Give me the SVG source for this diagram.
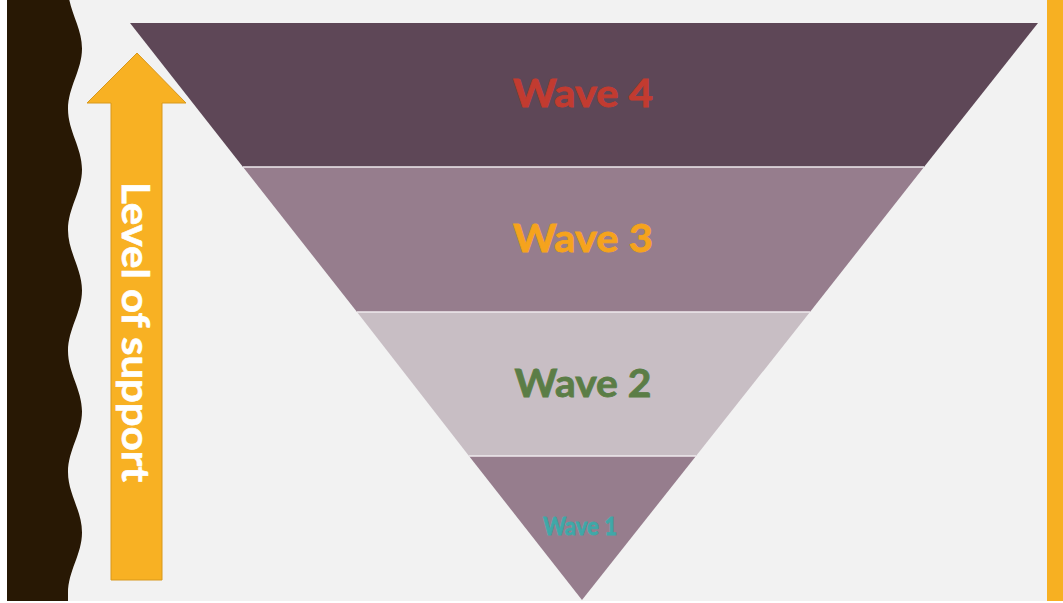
<svg xmlns="http://www.w3.org/2000/svg" width="1063" height="603" viewBox="0 0 1063 603">
  <style>
    .lbl { font-family: Lato, "Open Sans", "Liberation Sans", sans-serif; font-weight: 700; text-anchor: middle; stroke-width: 0.8; }
    .sep { stroke: #efeaee; stroke-width: 1.5; }
  </style>
  <rect x="0" y="0" width="1063" height="603" fill="#ffffff"/>
  <rect x="7" y="0" width="1056" height="601" fill="#f2f2f2"/>
  <g id="left-band">
    <path fill="#281804" d="M7 -12 L68 -12 C68 10 82 26.5 82 48.5 C82 70.5 68 87 68 109 C68 131 82 147.5 82 169.5 C82 191.5 68 208 68 230 C68 252 82 268.5 82 290.5 C82 312.5 68 329 68 351 C68 373 82 389.5 82 411.5 C82 433.5 68 450 68 472 C68 494 82 510.5 82 532.5 C82 554.5 68 571 68 593 L68 601 L7 601 Z"/>
  </g>
  <g id="right-band">
    <rect x="1047" y="0" width="16" height="601" fill="#f7b022"/>
  </g>
  <g id="wave4">
    <polygon points="130,23 1038,23 924,167 243,167" fill="#5e4757"/>
    <text class="lbl" x="583" y="107" font-size="38" fill="#c23b30" stroke="#c23b30" textLength="140" lengthAdjust="spacingAndGlyphs">Wave 4</text>
  </g>
  <g id="wave3">
    <polygon points="243,167 924,167 810,312 357,312" fill="#967d8d"/>
    <text class="lbl" x="583" y="252" font-size="38" fill="#f5a31d" stroke="#f5a31d" textLength="140" lengthAdjust="spacingAndGlyphs">Wave 3</text>
  </g>
  <g id="wave2">
    <polygon points="357,312 810,312 696,456 469,456" fill="#c8bec4"/>
    <text class="lbl" x="583" y="397" font-size="38" fill="#5b7d46" stroke="#5b7d46" textLength="137" lengthAdjust="spacingAndGlyphs">Wave 2</text>
  </g>
  <g id="wave1">
    <polygon points="469,456 696,456 582,600" fill="#967d8d"/>
    <text class="lbl" x="580" y="535" font-size="24" fill="#3fa8a8" stroke="#3fa8a8" textLength="74" lengthAdjust="spacingAndGlyphs">Wave 1</text>
  </g>
  <g id="separators">
    <line class="sep" x1="243" y1="167" x2="924" y2="167"/>
    <line class="sep" x1="357" y1="312" x2="810" y2="312"/>
    <line class="sep" x1="469" y1="456" x2="696" y2="456"/>
  </g>
  <g id="support-arrow">
    <polygon points="137,53 186,103 162,103 162,580 111,580 111,103 87,103" fill="#f8b123" stroke="#d8981d" stroke-width="1"/>
    <text transform="translate(122,182) rotate(90)" x="0" y="0" font-family="Lato, 'Open Sans', 'Liberation Sans', sans-serif" font-weight="700" font-size="38" fill="#ffffff" stroke="#ffffff" stroke-width="0.6" textLength="300" lengthAdjust="spacingAndGlyphs">Level of support</text>
  </g>
  <g id="connectors"/>
</svg>
